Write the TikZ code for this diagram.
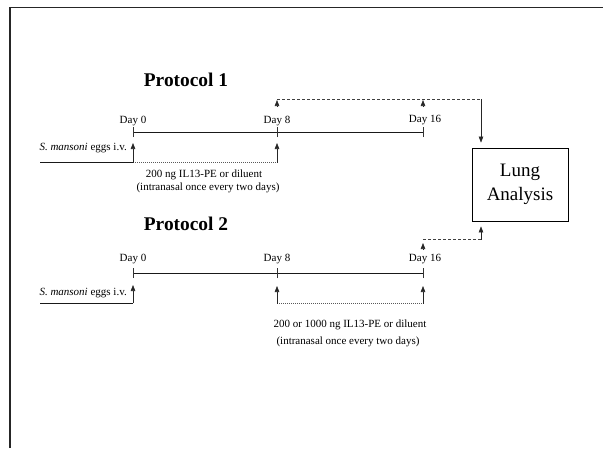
\documentclass[tikz,border=0pt]{standalone}
\usepackage{fontspec}
\setmainfont{Liberation Serif}
\usetikzlibrary{arrows.meta}
\begin{document}
\begin{tikzpicture}[x=1pt,y=-1pt,
  lbl/.style={font=\fontsize{11}{13}\selectfont, inner sep=0pt},
  ttl/.style={font=\fontsize{19.4}{23}\selectfont\bfseries, inner sep=0pt},
  tl/.style={line width=0.9pt, draw=black!90},
  tk/.style={line width=0.6pt, draw=black!80},
  arr/.style={line width=0.6pt, draw=black!85, -{Triangle[length=6pt,width=4.5pt]}},
  dsh/.style={line width=0.7pt, draw=black!75, dash pattern=on 3pt off 2pt},
  dotl/.style={line width=0.5pt, draw=black!65, dash pattern=on 1pt off 1pt},
]
\useasboundingbox (0,0) rectangle (603,448);
\coordinate (fb) at (10,448);
\coordinate (fc) at (10,7.5);
\coordinate (fr) at (603,7.5);
\draw[line width=1.4pt, black!85] (fb) -- (fc) -- (fr);

% titles
\node[ttl] (t1) at (186,80) {Protocol 1};
\node[ttl] (t2) at (186,224) {Protocol 2};

% lung box
\node[draw, line width=0.8pt, minimum width=96pt, minimum height=73pt, inner sep=0pt,
      font=\fontsize{19}{24}\selectfont, align=center] (lung) at (520,184.5) {Lung\\Analysis};

% ---------- Protocol 1 ----------
\coordinate (a0) at (133,132);
\coordinate (a8) at (277,132);
\coordinate (a16) at (423,132);
\draw[tl] (a0) -- (a16);
\foreach \c in {a0,a8,a16} \draw[tk] ([yshift=-5pt]\c) -- ([yshift=5pt]\c);
\node[lbl] (d10) at (133,121) {Day 0};
\node[lbl] (d18) at (277,121) {Day 8};
\node[lbl] (d116) at (425,120) {Day 16};

\node[lbl, anchor=east] (e1) at (127,148) {\textit{S. mansoni} eggs i.v.};
\coordinate (s1) at (40,162.5);
\coordinate (b10) at (133,162.5);
\coordinate (b18) at (277,162.5);
\coordinate (h10) at (133,143);
\coordinate (h18) at (277,143);
\draw[tl] (s1) -- (b10);
\draw[dotl] (b10) -- (b18);
\draw[arr] (b10) -- (h10);
\draw[arr] (b18) -- (h18);
\node[lbl] (r11) at (204,174.5) {200 ng IL13-PE or diluent};
\node[lbl] (r12) at (208,188) {(intranasal once every two days)};

\coordinate (u8s) at (277,107);
\coordinate (u8) at (277,100);
\coordinate (u16s) at (423,107);
\coordinate (u16) at (423,100);
\coordinate (p8) at (277,99);
\coordinate (c1) at (481,99);
\draw[arr] (u8s) -- (u8);
\draw[arr] (u16s) -- (u16);
\draw[dsh] (p8) -- (c1);
\draw[arr, shorten >=5pt] (c1) -- (c1 |- lung.north);

% ---------- Protocol 2 ----------
\coordinate (q0) at (133,273);
\coordinate (q8) at (277,273);
\coordinate (q16) at (423,273);
\draw[tl] (q0) -- (q16);
\foreach \c in {q0,q8,q16} \draw[tk] ([yshift=-5pt]\c) -- ([yshift=5pt]\c);
\node[lbl] (d20) at (133,259.5) {Day 0};
\node[lbl] (d28) at (277,259.5) {Day 8};
\node[lbl] (d216) at (425,259.5) {Day 16};

\node[lbl, anchor=east] (e2) at (127,293) {\textit{S. mansoni} eggs i.v.};
\coordinate (s2) at (40,303);
\coordinate (b20) at (133,303);
\coordinate (h20) at (133,285);
\draw[tl] (s2) -- (b20);
\draw[arr] (b20) -- (h20);
\coordinate (b28) at (277,303.5);
\coordinate (b216) at (423,303.5);
\coordinate (h28) at (277,286);
\coordinate (h216) at (423,286);
\draw[dotl] (b28) -- (b216);
\draw[arr] (b28) -- (h28);
\draw[arr] (b216) -- (h216);
\node[lbl] (r21) at (350,324.5) {200 or 1000 ng IL13-PE or diluent};
\node[lbl] (r22) at (348,341.5) {(intranasal once every two days)};

\coordinate (v16s) at (423,250);
\coordinate (v16) at (423,243);
\coordinate (p16) at (423,239.5);
\coordinate (c2) at (481,239.5);
\draw[arr] (v16s) -- (v16);
\draw[dsh] (p16) -- (c2);
\draw[arr, shorten >=5pt] (c2) -- (c2 |- lung.south);
\end{tikzpicture}
\end{document}
